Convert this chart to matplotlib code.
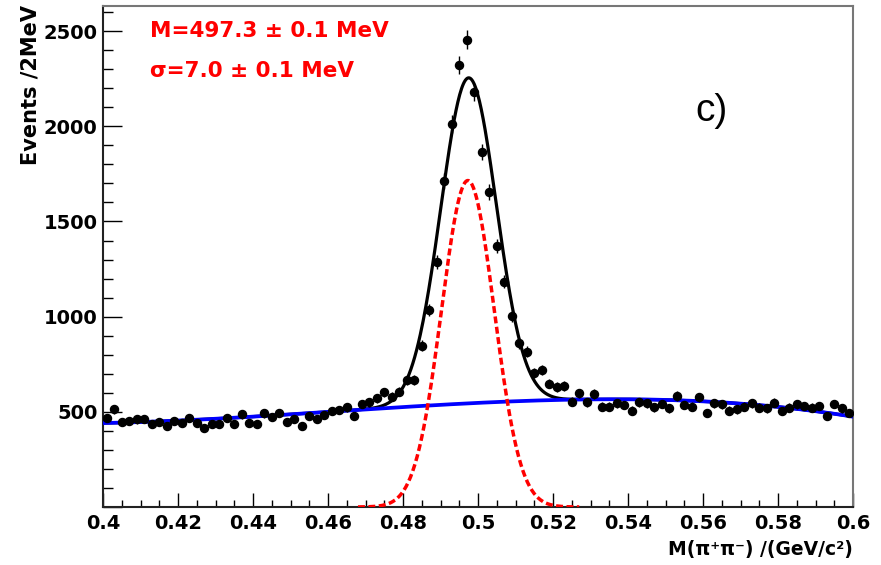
import numpy as np
import matplotlib.pyplot as plt
from matplotlib.ticker import MultipleLocator, FuncFormatter

# bin centres, 2 MeV bins from 0.40 to 0.60 GeV
mass = np.linspace(0.401, 0.599, 100)

# events per bin
counts = [469, 513, 445, 452, 460, 462, 434, 448, 427, 452,
          443, 466, 443, 413, 434, 434, 469, 434, 487, 440,
          436, 492, 474, 494, 447, 464, 427, 478, 462, 483,
          504, 509, 524, 478, 541, 551, 572, 602, 579, 606,
          665, 667, 847, 1035, 1288, 1714, 2012, 2321, 2456, 2181,
          1866, 1654, 1371, 1183, 1003, 860, 816, 705, 720, 648,
          629, 637, 553, 597, 550, 593, 527, 527, 545, 536,
          506, 550, 545, 524, 541, 518, 583, 536, 527, 576,
          495, 545, 539, 506, 513, 527, 545, 522, 518, 548,
          504, 522, 539, 530, 522, 530, 478, 541, 518, 495]

# background curve, points
bg_x = [0.400, 0.426, 0.4525, 0.4872, 0.5112, 0.5539, 0.577, 0.600]
bg_y = [440, 462, 488, 536, 553, 562, 532, 474]

# signal shapes: total fit (black) and gaussian (red)
fit_mean, fit_sigma, fit_amp = 0.4975, 0.0074, 1710
sig_mean, sig_sigma, sig_amp = 0.4973, 0.0070, 1715

counts = np.array(counts)
bg_poly = np.poly1d(np.polyfit(bg_x, bg_y, 3))

xs = np.linspace(0.4, 0.6, 800)
bg = bg_poly(xs)
total = bg + fit_amp * np.exp(-0.5 * ((xs - fit_mean) / fit_sigma) ** 2)
xr = np.linspace(0.468, 0.527, 300)
sig = sig_amp * np.exp(-0.5 * ((xr - sig_mean) / sig_sigma) ** 2)

bold = dict(family='DejaVu Sans', weight='bold')

fig = plt.figure(figsize=(8.81, 5.65), dpi=100)
ax = fig.add_axes([103 / 881, 1 - 507 / 565, 750 / 881, 501 / 565])

ax.plot(xs, total, color='black', lw=2.3, zorder=2)
ax.plot(xs, bg, color='#0000ff', lw=2.7, zorder=3)
ax.plot(xr, sig, color='#ff0000', lw=2.5, dashes=(2, 1), zorder=3)
ax.errorbar(mass, counts, yerr=np.sqrt(counts), fmt='o', color='black',
            ms=5.8, elinewidth=1, capsize=0, zorder=4)

ax.set_xlim(0.4, 0.6)
ax.set_ylim(0, 2632)

ax.xaxis.set_major_locator(MultipleLocator(0.02))
ax.xaxis.set_minor_locator(MultipleLocator(0.005))
ax.yaxis.set_major_locator(MultipleLocator(500))
ax.yaxis.set_minor_locator(MultipleLocator(100))
ax.xaxis.set_major_formatter(FuncFormatter(lambda v, p: '%g' % round(v, 3)))
ax.yaxis.set_major_formatter(FuncFormatter(lambda v, p: '' if v == 0 else '%d' % v))

ax.tick_params(axis='x', which='major', direction='in', length=10, width=1, pad=5)
ax.tick_params(axis='x', which='minor', direction='in', length=5, width=1)
ax.tick_params(axis='y', which='major', direction='in', length=14, width=1, pad=4)
ax.tick_params(axis='y', which='minor', direction='in', length=7, width=1)
for lab in ax.get_xticklabels() + ax.get_yticklabels():
    lab.set_fontsize(14)
    lab.set_fontweight('bold')
    lab.set_family('DejaVu Sans')

for s in ['left', 'bottom']:
    ax.spines[s].set_color('#222222')
    ax.spines[s].set_linewidth(1.5)
for s in ['top', 'right']:
    ax.spines[s].set_color('#777777')
    ax.spines[s].set_linewidth(1.5)

fig.text(853 / 881, 1 - 549 / 565, 'M(π⁺π⁻) /(GeV/c²)', ha='right', va='center',
         fontsize=13.5, **bold)
fig.text(31 / 881, 1 - 5 / 565, 'Events /2MeV', ha='center', va='top',
         rotation=90, fontsize=15, **bold)

fig.text(150 / 881, 1 - 37 / 565, 'M=497.3 ± 0.1 MeV', ha='left', va='baseline',
         color='#ff0000', fontsize=15.5, **bold)
fig.text(150 / 881, 1 - 77 / 565, 'σ=7.0 ± 0.1 MeV', ha='left', va='baseline',
         color='#ff0000', fontsize=15.5, **bold)
fig.text(695 / 881, 1 - 121 / 565, 'c)', ha='left', va='baseline',
         fontsize=28, family='Liberation Sans')

fig.savefig('out.png', dpi=100)
